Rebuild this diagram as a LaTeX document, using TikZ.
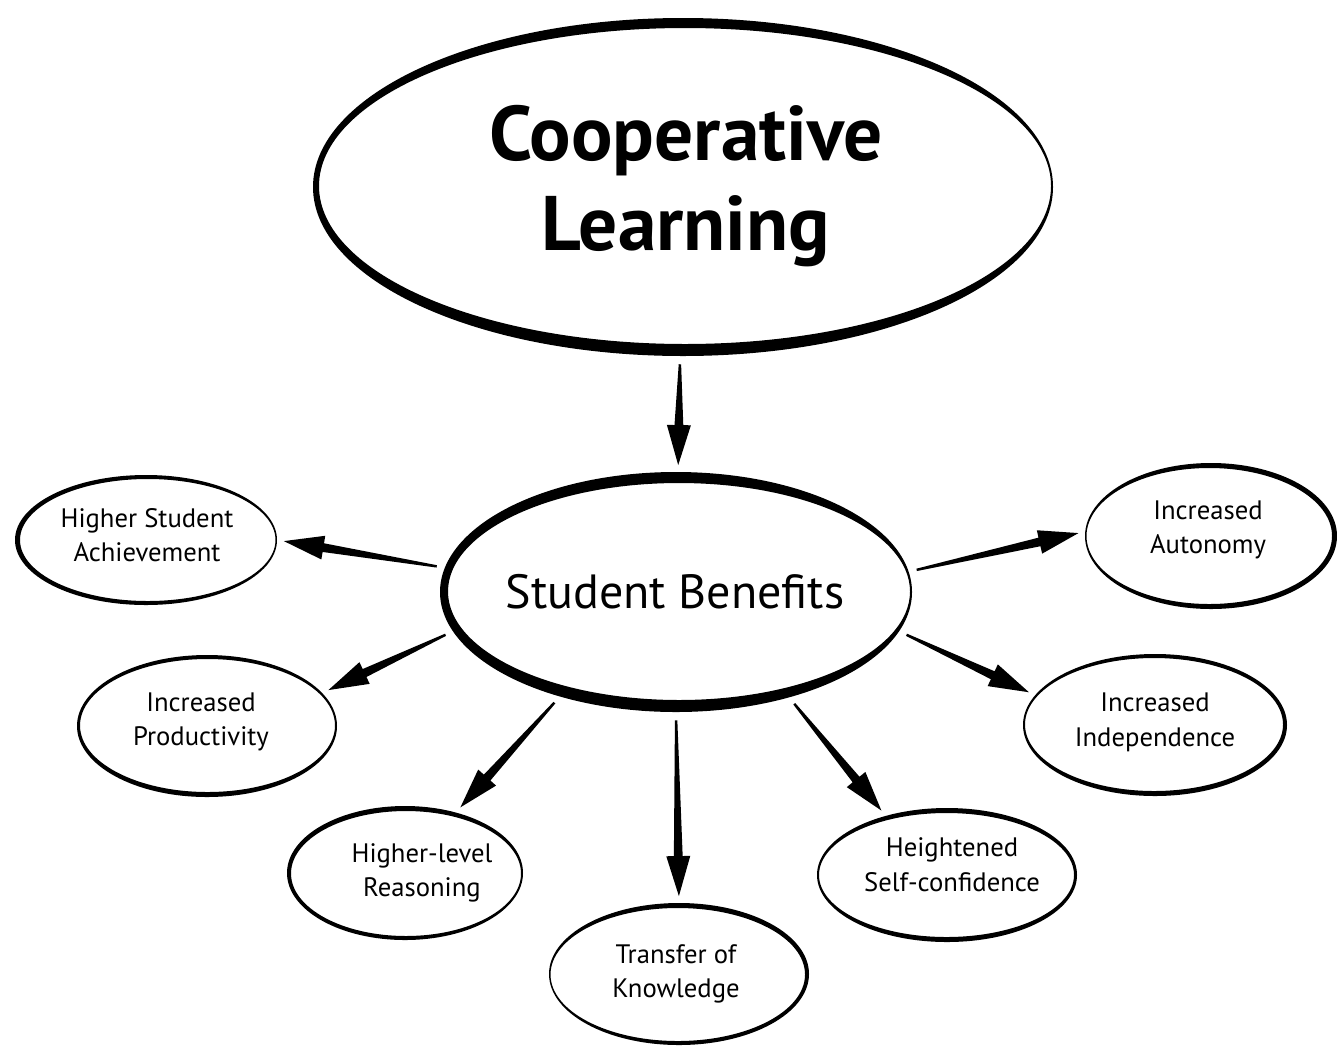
\documentclass[tikz,border=0pt]{standalone}
\usepackage{fontspec}
\setmainfont{PT Sans}
\usetikzlibrary{calc,shapes.geometric}
\tikzset{
  bub/.style={ellipse, draw=none, inner sep=0pt},
  smalltxt/.style={align=center, font=\fontsize{20}{26}\selectfont},
}
% name cx cy a b tL tR tT tB  (pixel units, y downward)
\newcommand\bubble[9]{%
  \pgfmathsetmacro\bicx{#2+(#6-#7)/2}%
  \pgfmathsetmacro\bicy{#3+(#8-#9)/2}%
  \pgfmathsetmacro\bia{#4-(#6+#7)/2}%
  \pgfmathsetmacro\bib{#5-(#8+#9)/2}%
  \node[bub, minimum width={1.5*#4*1pt}, minimum height={1.5*#5*1pt}] (#1) at (#2,#3) {};
  \fill[even odd rule] (#2,#3) ellipse [x radius=#4, y radius=#5]
        (\bicx,\bicy) ellipse [x radius=\bia, y radius=\bib];
}
\newcommand\tarrow[2]{%
  \coordinate (ta-s) at ($(#1)!6pt!(#2)$);
  \coordinate (ta-t) at ($(#2)!5pt!(#1)$);
  \coordinate (ta-h) at ($(ta-t)!30pt!(ta-s)$);
  \fill ($(ta-s)!0.9pt!90:(ta-t)$) -- ($(ta-h)!3.3pt!90:(ta-t)$) -- ($(ta-h)!9pt!90:(ta-t)$)
     -- (ta-t) -- ($(ta-h)!9pt!-90:(ta-t)$) -- ($(ta-h)!3.3pt!-90:(ta-t)$)
     -- ($(ta-s)!0.9pt!-90:(ta-t)$) -- cycle;
}
\begin{document}
\begin{tikzpicture}[x=0.75pt,y=-0.75pt]
\useasboundingbox[fill=white] (0,0) rectangle (1337,1050);

\bubble{cl}{683}{187}{370}{169}{6}{2}{10}{12}
\bubble{sb}{676}{592}{236}{120}{8}{2}{11}{12}
\bubble{ach}{146}{540}{131}{65}{5}{1.5}{4}{4}
\bubble{aut}{1211}{536}{126}{73}{1.5}{5}{5}{5}
\bubble{prod}{207}{726}{130}{71}{3}{2}{4}{5}
\bubble{ind}{1155}{725}{132}{71}{2}{4}{4}{5}
\bubble{reas}{405}{873}{118}{67}{4}{2}{5}{4}
\bubble{conf}{947}{875}{130}{67}{2}{3}{5}{5}
\bubble{trans}{679}{974}{130}{71}{1.5}{4}{5}{4}

\node[align=center, font=\fontsize{58}{68}\selectfont\bfseries] (clt) at (686,186) {Cooperative\\Learning};
\node[font=\fontsize{36}{42}\selectfont] (sbt) at (675,592) {Student Benefits};
\node[smalltxt] (acht) at (147,535) {Higher Student\\Achievement};
\node[smalltxt] (autt) at (1208,530) {Increased\\Autonomy};
\node[smalltxt] (prodt) at (201,722) {Increased\\Productivity};
\node[smalltxt] (indt) at (1155,722) {Increased\\Independence};
\node[smalltxt] (reast) at (422,873) {Higher-level\\Reasoning};
\node[smalltxt] (conft) at (952,865) {Heightened\\Self-confidence};
\node[smalltxt] (transt) at (676,974) {Transfer of\\Knowledge};

\tarrow{cl.-91.6}{sb.89}
\tarrow{sb.174.3}{ach.0.8}
\tarrow{sb.-170.2}{prod.16.9}
\tarrow{sb.-138.3}{reas.50.4}
\tarrow{sb.-90}{trans.90}
\tarrow{sb.-43.3}{conf.136.5}
\tarrow{sb.-10.8}{ind.166.7}
\tarrow{sb.5.8}{aut.178.3}
\end{tikzpicture}
\end{document}
